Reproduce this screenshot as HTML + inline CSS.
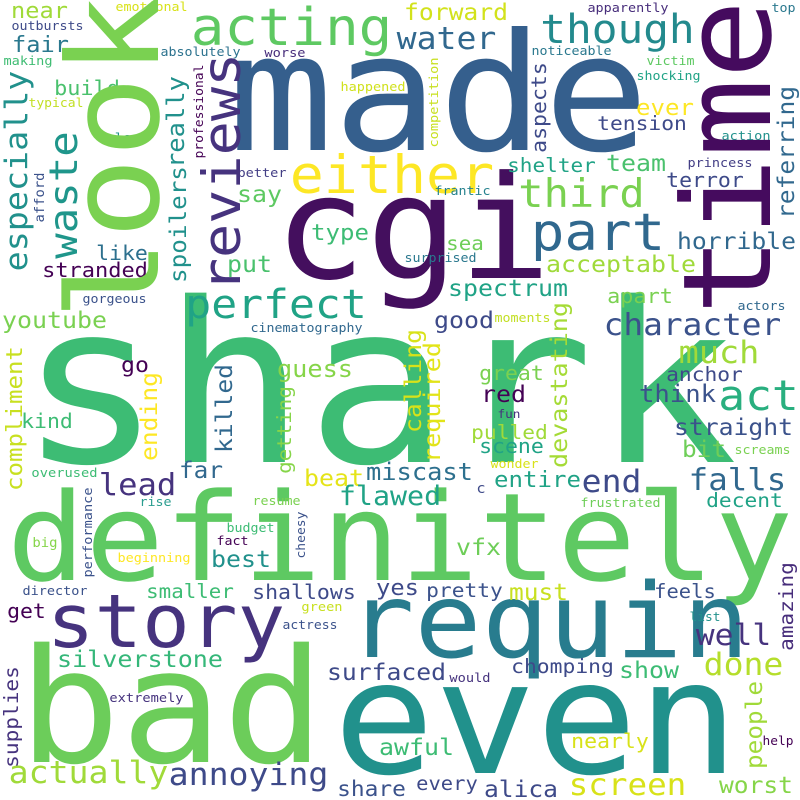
<!DOCTYPE html>
<html><head><meta charset="utf-8"><style>
html,body{margin:0;padding:0;background:#fff;}
svg{display:block;}
text{font-family:"DejaVu Sans Mono","Liberation Mono",monospace;}
</style></head><body>
<svg id="cloud" width="800" height="800" viewBox="0 0 800 800" xmlns="http://www.w3.org/2000/svg">
<rect width="800" height="800" fill="#ffffff"/>
</svg>
<script>
// horizontal words: [word, xLeft, xRight, baselineY, color]
const hWords = [
["shark",28,728,462,"#3dbc74"],
["made",235,642,150,"#355f8d"],
["cgi",280,545,278,"#440f5e"],
["definitely",12,788,580,"#5ec962"],
["bad",25,318,762,"#6ccd5a"],
["even",340,732,773,"#21918c"],
["requin",352,745,657,"#287c8e"],
["story",50,282,647,"#46337e"],
["acting",193,390,45,"#5ec962"],
["near",12,67,18,"#a0da39"],
["emotional",116,187,11,"#d8e219"],
["outbursts",12,83,30,"#3e4a89"],
["fair",13,68,52,"#2a788e"],
["absolutely",161,240,56,"#2c728e"],
["worse",265,305,57,"#472d7b"],
["making",4,52,65,"#3fbc73"],
["build",55,119,95,"#4ac16d"],
["typical",29,83,107,"#c2df23"],
["happened",341,405,91,"#d0e11c"],
["also",107,139,142,"#21918c"],
["better",238,286,177,"#433e85"],
["either",292,492,193,"#fde725"],
["say",238,281,202,"#5ec962"],
["type",312,368,240,"#3dbc74"],
["like",97,147,260,"#2d708e"],
["stranded",43,147,277,"#440154"],
["put",228,271,272,"#4ac16d"],
["perfect",187,365,318,"#20a386"],
["gorgeous",83,146,303,"#3b528b"],
["cinematography",251,362,332,"#31688e"],
["youtube",3,106,328,"#7ad151"],
["go",122,148,372,"#440154"],
["guess",278,352,377,"#86d549"],
["forward",405,507,20,"#d2e21b"],
["water",398,495,49,"#31688e"],
["though",542,693,43,"#238a8d"],
["apparently",588,668,12,"#472d7b"],
["top",772,795,12,"#2a788e"],
["noticeable",532,611,55,"#2a788e"],
["victim",647,694,65,"#5ec962"],
["shocking",637,700,80,"#20a386"],
["ever",637,693,115,"#fde725"],
["tension",598,686,130,"#3e4a89"],
["action",722,770,140,"#21918c"],
["shelter",508,595,172,"#20a386"],
["team",607,665,171,"#4ac16d"],
["third",520,643,207,"#7ad151"],
["terror",667,743,187,"#3e4a89"],
["princess",688,752,167,"#433e85"],
["frantic",435,490,195,"#26828e"],
["part",533,663,250,"#30688e"],
["horrible",678,795,249,"#31688e"],
["sea",447,483,250,"#6ece58"],
["surprised",405,476,262,"#2a788e"],
["acceptable",547,695,272,"#9fda3a"],
["spectrum",449,567,296,"#20a386"],
["apart",608,672,303,"#7ad151"],
["actors",738,785,310,"#31688e"],
["good",435,493,328,"#3e4a89"],
["moments",495,550,322,"#c2df23"],
["character",605,780,335,"#3b528b"],
["much",680,758,363,"#a0da39"],
["great",480,543,380,"#7ad151"],
["anchor",667,742,381,"#3e4a89"],
["act",720,797,410,"#29af7f"],
["think",640,715,402,"#3b528b"],
["red",482,525,402,"#440154"],
["kind",22,72,428,"#3dbc74"],
["lead",100,175,495,"#46337e"],
["far",180,222,478,"#31688e"],
["beat",305,363,486,"#e5e419"],
["miscast",367,472,480,"#2d708e"],
["flawed",340,440,505,"#20a386"],
["overused",32,97,477,"#3dbc74"],
["rise",140,171,506,"#2a9d8f"],
["resume",253,300,505,"#7ad151"],
["budget",227,274,532,"#3dbc74"],
["fact",217,248,545,"#440154"],
["big",33,57,547,"#86d549"],
["best",212,270,567,"#21918c"],
["beginning",118,190,562,"#fde725"],
["director",23,87,595,"#3b528b"],
["smaller",147,233,598,"#3dbc74"],
["shallows",253,355,599,"#3e4a89"],
["yes",377,418,595,"#3e4a89"],
["get",8,45,618,"#440154"],
["green",302,342,611,"#c8e020"],
["actress",283,337,629,"#3b528b"],
["silverstone",58,222,667,"#35b779"],
["surfaced",328,445,680,"#3e4a89"],
["extremely",110,183,702,"#46337e"],
["awful",380,453,755,"#3dbc74"],
["actually",10,167,783,"#a0da39"],
["annoying",170,327,785,"#3e4a89"],
["share",338,405,796,"#3b528b"],
["pulled",472,547,439,"#a0da39"],
["fun",498,520,418,"#46337e"],
["scene",480,543,453,"#20a386"],
["straight",675,792,435,"#3b528b"],
["bit",683,725,457,"#6ece58"],
["screams",735,790,454,"#7ad151"],
["wonder",491,538,468,"#d8e219"],
["entire",495,580,487,"#20a386"],
["end",583,640,492,"#3e4a89"],
["falls",690,785,490,"#31688e"],
["c",477,485,493,"#3e4a89"],
["frustrated",581,660,507,"#6ece58"],
["decent",707,782,507,"#20a386"],
["vfx",457,500,555,"#6ece58"],
["pretty",427,502,597,"#3b528b"],
["must",510,567,600,"#c8e020"],
["feels",655,715,598,"#3b528b"],
["list",690,720,621,"#21918c"],
["well",697,770,645,"#46337e"],
["done",705,782,675,"#b5de2b"],
["chomping",512,613,673,"#3e4a89"],
["show",620,678,678,"#3dbc74"],
["would",450,490,682,"#46337e"],
["help",763,793,745,"#440154"],
["nearly",572,648,748,"#d8e219"],
["worst",720,792,793,"#86d549"],
["screen",570,685,795,"#d8e219"],
["every",417,477,790,"#3e4a89"],
["alica",485,557,797,"#3e4a89"]
];
// vertical words (read bottom to top): [word, baselineX, yBottom, yTop, color]
const vWords = [
["look",158,315,0,"#7ad151"],
["time",770,310,5,"#450b5e"],
["especially",27,270,72,"#21918c"],
["waste",77,257,133,"#1f968b"],
["reviews",240,290,55,"#46337e"],
["really",184,167,77,"#21918c"],
["spoilers",186,282,167,"#21918c"],
["professional",203,158,65,"#440154"],
["afford",44,222,173,"#3b528b"],
["compliment",22,490,347,"#c8e020"],
["ending",157,460,373,"#fde725"],
["killed",232,452,365,"#31688e"],
["getting",291,473,387,"#86d549"],
["aspects",546,152,63,"#3e4a89"],
["competition",438,147,58,"#c8e020"],
["referring",794,218,87,"#31688e"],
["performance",92,577,488,"#3b528b"],
["cheesy",305,558,512,"#3b528b"],
["supplies",18,767,667,"#46337e"],
["calling",421,432,330,"#d8e219"],
["required",440,462,343,"#e2e418"],
["devastating",567,467,303,"#a5db36"],
["amazing",793,650,563,"#472d7b"],
["people",762,768,682,"#a0da39"]
];
const NS = "http://www.w3.org/2000/svg";
const svg = document.getElementById("cloud");
const HSCALE = 0.93;
function sizeFor(word, len){ return len / (0.6*(word.length-1) + 0.52); }
hWords.forEach(function(w){
  const t = document.createElementNS(NS, "text");
  const len = w[2]-w[1];
  const fs = sizeFor(w[0], len);
  t.setAttribute("x", w[1] - fs*0.04);
  t.setAttribute("y", w[3]);
  t.setAttribute("font-size", (fs*HSCALE).toFixed(1));
  t.setAttribute("fill", w[4]);
  t.setAttribute("textLength", (fs*0.6*w[0].length).toFixed(1));
  t.setAttribute("lengthAdjust", "spacingAndGlyphs");
  
  
  t.textContent = w[0];
  svg.appendChild(t);
});
vWords.forEach(function(w){
  const t = document.createElementNS(NS, "text");
  const len = w[2]-w[3];
  const fs = sizeFor(w[0], len);
  t.setAttribute("x", 0);
  t.setAttribute("y", 0);
  t.setAttribute("transform", "translate(" + w[1] + "," + (w[2] + fs*0.04) + ") rotate(-90)");
  t.setAttribute("font-size", (fs*HSCALE).toFixed(1));
  t.setAttribute("fill", w[4]);
  t.setAttribute("textLength", (fs*0.6*w[0].length).toFixed(1));
  t.setAttribute("lengthAdjust", "spacingAndGlyphs");
  
  
  t.textContent = w[0];
  svg.appendChild(t);
});
</script>
</body></html>
